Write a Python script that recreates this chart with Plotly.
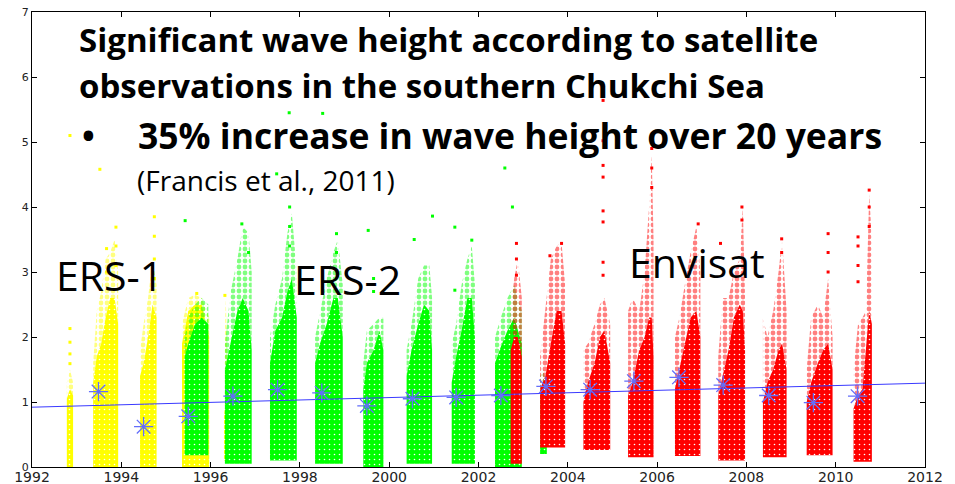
import plotly.graph_objects as go

# ---------------- data ----------------
# Each satellite season: sample times (decimal year), lower edge, top of dense core, top of sparse spread
ers1_t = [[1992.78, 1992.85, 1992.92],
          [1993.37, 1993.45, 1993.55, 1993.65, 1993.75, 1993.85, 1993.93],
          [1994.42, 1994.5, 1994.6, 1994.7, 1994.79],
          [1995.36, 1995.5, 1995.65, 1995.8, 1995.97],
          [1996.30, 1996.34, 1996.39]]
ers1_lo = [0.0, 0.0, 0.0, 0.0, 0.1]
ers1_core = [[1.05, 1.2, 1.1],
             [1.3, 1.7, 1.9, 2.3, 2.6, 2.6, 2.2],
             [1.4, 1.6, 2.0, 2.5, 2.3],
             [1.9, 2.4, 2.5, 2.5, 2.0],
             [0.8, 1.0, 0.7]]
ers1_top = [[1.3, 1.5, 1.3],
            [1.6, 2.4, 2.7, 3.2, 3.3, 3.5, 3.0],
            [1.8, 2.2, 2.6, 3.2, 2.8],
            [2.2, 2.6, 2.65, 2.6, 2.3],
            [1.5, 2.6, 1.2]]
ers1_out_t = [1992.85, 1993.52, 1992.85, 1992.85, 1992.85, 1992.85,
              1993.88, 1993.88, 1993.88, 1993.67, 1993.67,
              1994.74, 1994.74, 1994.74, 1994.74, 1995.69, 1996.32]
ers1_out_v = [5.1, 4.58, 2.13, 1.92, 1.74, 1.59,
              3.69, 3.4, 3.1, 3.36, 3.0,
              3.85, 3.55, 3.2, 2.9, 2.67, 2.64]

ers2_t = [[1995.42, 1995.5, 1995.65, 1995.8, 1995.95],
          [1996.32, 1996.45, 1996.6, 1996.72, 1996.85, 1996.92],
          [1997.33, 1997.45, 1997.6, 1997.72, 1997.82, 1997.93],
          [1998.34, 1998.45, 1998.6, 1998.75, 1998.85, 1998.96],
          [1999.42, 1999.5, 1999.65, 1999.78, 1999.87],
          [2000.39, 2000.5, 2000.65, 2000.78, 2000.9, 2000.96],
          [2001.40, 2001.5, 2001.62, 2001.75, 2001.85, 2001.92],
          [2002.37, 2002.5, 2002.65, 2002.8, 2002.97],
          [2003.38, 2003.45, 2003.53]]
ers2_lo = [0.18, 0.05, 0.1, 0.05, 0.0, 0.05, 0.05, 0.0, 0.2]
ers2_core = [[1.7, 1.9, 2.2, 2.3, 2.2],
             [1.5, 1.9, 2.4, 2.6, 2.4, 1.8],
             [1.6, 2.1, 2.3, 2.7, 2.9, 2.3],
             [1.6, 1.9, 2.2, 2.6, 2.6, 2.0],
             [1.2, 1.6, 1.8, 2.1, 1.8],
             [1.4, 1.8, 2.2, 2.5, 2.4, 1.8],
             [1.3, 1.7, 2.1, 2.6, 2.6, 2.0],
             [1.6, 1.85, 2.1, 2.3, 1.9],
             [1.1, 1.3, 1.0]]
ers2_top = [[2.0, 2.3, 2.5, 2.6, 2.5],
            [1.9, 2.7, 3.2, 3.7, 3.6, 3.0],
            [2.0, 2.5, 2.9, 3.6, 3.9, 3.0],
            [2.0, 2.4, 2.9, 3.3, 3.5, 2.8],
            [1.6, 2.1, 2.2, 2.3, 2.3],
            [1.8, 2.2, 2.9, 3.1, 3.1, 2.6],
            [1.9, 2.2, 2.8, 3.2, 3.4, 2.8],
            [2.0, 2.3, 2.6, 2.8, 2.4],
            [1.4, 1.5, 1.2]]
ers2_out_t = [1995.43, 1997.76, 1998.51, 1997.48, 1997.77, 1997.77, 1997.77,
              1996.70, 1996.85, 1998.82, 1998.82, 1999.53, 1999.65, 1999.65,
              2000.56, 2000.97, 2001.47, 2001.47, 2001.85, 2002.59, 2002.76]
ers2_out_v = [3.79, 5.45, 5.44, 4.51, 4.0, 3.7, 3.4,
              3.74, 3.3, 3.59, 3.3, 3.64, 2.9, 2.7,
              3.5, 3.86, 3.69, 2.72, 3.49, 4.6, 4.0]

env_t = [[2002.72, 2002.8, 2002.88, 2002.97],
         [2003.38, 2003.5, 2003.62, 2003.75, 2003.86, 2003.94],
         [2004.35, 2004.45, 2004.6, 2004.72, 2004.82, 2004.95],
         [2005.35, 2005.45, 2005.6, 2005.72, 2005.82, 2005.88, 2005.92],
         [2006.40, 2006.5, 2006.62, 2006.75, 2006.88, 2006.97],
         [2007.37, 2007.47, 2007.6, 2007.72, 2007.85, 2007.92, 2007.97],
         [2008.37, 2008.47, 2008.6, 2008.72, 2008.8, 2008.9],
         [2009.35, 2009.45, 2009.6, 2009.72, 2009.83, 2009.93],
         [2010.40, 2010.5, 2010.6, 2010.68, 2010.75, 2010.81]]
env_lo = [0.05, 0.3, 0.26, 0.15, 0.17, 0.1, 0.15, 0.18, 0.08]
env_core = [[1.8, 2.0, 2.0, 1.7],
            [1.2, 1.4, 1.9, 2.4, 2.4, 1.9],
            [1.0, 1.3, 1.6, 2.0, 2.1, 1.6],
            [1.1, 1.3, 1.8, 2.0, 2.3, 2.3, 1.7],
            [1.2, 1.5, 1.9, 2.3, 2.4, 2.0],
            [1.1, 1.4, 1.8, 2.3, 2.5, 2.4, 1.8],
            [1.0, 1.3, 1.5, 1.8, 1.9, 1.5],
            [1.0, 1.3, 1.6, 1.8, 1.9, 1.5],
            [0.9, 1.1, 1.2, 1.8, 2.4, 2.2]]
env_top = [[2.4, 2.9, 3.2, 2.6],
           [1.7, 2.4, 3.2, 3.4, 3.45, 2.8],
           [1.8, 1.9, 2.2, 2.5, 2.6, 2.2],
           [2.4, 2.6, 2.4, 3.0, 4.0, 4.8, 3.5],
           [2.0, 2.3, 2.8, 3.3, 3.7, 3.0],
           [1.7, 2.6, 2.6, 3.0, 3.2, 4.0, 2.6],
           [2.3, 2.0, 2.4, 3.0, 3.5, 2.4],
           [1.5, 2.3, 2.5, 2.3, 2.9, 2.0],
           [1.5, 2.2, 2.3, 2.4, 4.2, 3.5]]
env_out_t = [2004.79, 2004.79, 2004.79, 2004.79, 2004.79, 2004.79, 2004.79, 2004.79,
             2005.88, 2005.88, 2005.88, 2006.92, 2007.90, 2007.90, 2007.42,
             2008.79, 2008.79, 2009.83, 2009.83, 2009.83,
             2010.50, 2010.50, 2010.50, 2010.50, 2010.75, 2010.75, 2010.75,
             2002.85, 2002.85, 2002.85, 2003.86, 2003.60]
env_out_v = [5.64, 5.02, 4.64, 4.46, 3.94, 3.77, 3.15, 2.95,
             4.9, 4.6, 4.3, 3.74, 4.0, 3.8, 3.44,
             3.51, 3.3, 3.59, 3.3, 3.0,
             3.54, 3.4, 3.1, 2.85, 4.26, 4.0, 3.7,
             3.44, 3.2, 2.95, 3.44, 3.25]

mean_t = [1993.49, 1994.5, 1995.5, 1996.5, 1997.5, 1998.49, 1999.5, 2000.52, 2001.5,
          2002.5, 2003.51, 2004.5, 2005.48, 2006.49, 2007.48, 2008.5, 2009.5, 2010.49]
mean_v = [1.16, 0.62, 0.78, 1.09, 1.19, 1.14, 0.94, 1.05, 1.07,
          1.10, 1.24, 1.19, 1.32, 1.38, 1.26, 1.10, 0.99, 1.09]

trend_t = [1992, 2012]
trend_v = [0.92, 1.29]

x_ticks = list(range(1992, 2013, 2))
y_ticks = list(range(0, 8))

# ---------------- figure ----------------
fig = go.Figure()


def band_polys(ts, lows, upper_list, lower_list=None):
    xs, ys = [], []
    for i, t in enumerate(ts):
        up = upper_list[i]
        lo = [lows[i]] * len(t) if lower_list is None else lower_list[i]
        xs += t + t[::-1] + [t[0], None]
        ys += up + lo[::-1] + [up[0], None]
    return xs, ys


def add_satellite(ts, lows, core, top, out_t, out_v, color):
    # sparse spread above the dense core
    xs, ys = band_polys(ts, lows, top, core)
    fig.add_trace(go.Scatter(
        x=xs, y=ys, mode="lines", line=dict(width=0), fill="toself",
        fillcolor="rgba(0,0,0,0)",
        fillpattern=dict(shape=".", fgcolor=color, bgcolor="rgba(0,0,0,0)",
                         size=6, solidity=0.5, fillmode="overlay"),
        hoverinfo="skip", showlegend=False))
    # dense core (solid with small white speckles)
    xs, ys = band_polys(ts, lows, core)
    fig.add_trace(go.Scatter(
        x=xs, y=ys, mode="lines", line=dict(width=0), fill="toself",
        fillcolor=color,
        fillpattern=dict(shape=".", fgcolor="white", bgcolor=color,
                         size=5, solidity=0.08, fillmode="replace"),
        hoverinfo="skip", showlegend=False))
    fig.add_trace(go.Scatter(
        x=out_t, y=out_v, mode="markers",
        marker=dict(symbol="square", size=3, color=color, line=dict(width=0)),
        hoverinfo="skip", showlegend=False))


add_satellite(ers1_t, ers1_lo, ers1_core, ers1_top, ers1_out_t, ers1_out_v, "#ffff00")
add_satellite(ers2_t, ers2_lo, ers2_core, ers2_top, ers2_out_t, ers2_out_v, "#00ff00")
add_satellite(env_t, env_lo, env_core, env_top, env_out_t, env_out_v, "#ff0000")

fig.add_trace(go.Scatter(x=trend_t, y=trend_v, mode="lines", hoverinfo="skip",
                         line=dict(color="#3a3aff", width=1), showlegend=False))
fig.add_trace(go.Scatter(x=mean_t, y=mean_v, mode="markers", hoverinfo="skip",
                         marker=dict(symbol="asterisk-open", size=16,
                                     line=dict(color="#1a1adc", width=1.3)),
                         showlegend=False))

# ---------------- layout (page has an 8px body margin, compensate) ----------------
OFF = 8
W, H = 955 - OFF, 484 - OFF
ml, mr, mt, mb = 32 - OFF, 30, 12 - OFF, 17
pw, ph = W - ml - mr, H - mt - mb

# text: (content, left x on page, vertical centre on page, size, family)
texts = [
    ("<b>Significant wave height according to satellite</b>", 77, 39, 33, "Open Sans"),
    ("<b>observations in the southern Chukchi Sea</b>", 77, 85, 33, "Open Sans"),
    ("<b>•</b>", 80, 135, 34, "Open Sans"),
    ("<b>35% increase in wave height over 20 years</b>", 136, 135, 35.5, "Open Sans"),
    ("(Francis et al., 2011)", 135, 180, 28, "Open Sans"),
    ("ERS-1", 54, 275, 41, "Open Sans"),
    ("ERS-2", 292, 279, 41, "Open Sans"),
    ("Envisat", 627, 262, 41, "Open Sans"),
]
for txt, px, py, fs, fam in texts:
    fig.add_annotation(
        text=txt, x=(px - OFF - ml) / pw, y=1 - (py - OFF - mt) / ph,
        xref="paper", yref="paper", xanchor="left", yanchor="middle",
        showarrow=False, font=dict(family=fam, size=fs, color="black"))

fig.update_layout(
    width=W, height=H,
    margin=dict(l=ml, r=mr, t=mt, b=mb, autoexpand=False),
    paper_bgcolor="white", plot_bgcolor="white",
    xaxis=dict(range=[1992, 2012], tickvals=x_ticks, ticktext=[str(v) for v in x_ticks],
               ticks="inside", ticklen=5, tickcolor="black", mirror="allticks",
               showline=True, linecolor="black", linewidth=1, showgrid=False, zeroline=False,
               ticklabelstandoff=-3, ticklabeloverflow="allow",
               tickfont=dict(family="DejaVu Sans", size=14, color="#222")),
    yaxis=dict(range=[0, 7], tickvals=y_ticks, ticks="inside", ticklen=5, tickcolor="black",
               mirror="allticks", showline=True, linecolor="black", linewidth=1,
               showgrid=False, zeroline=False, ticklabeloverflow="allow",
               tickfont=dict(family="DejaVu Sans", size=11, color="#222")),
)

fig.write_html("out.html")
